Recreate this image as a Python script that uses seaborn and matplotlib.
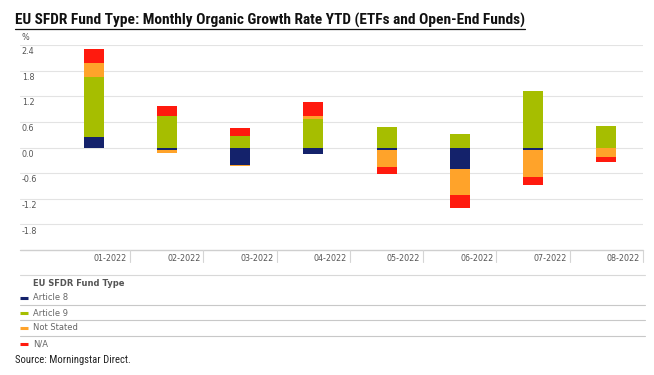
import matplotlib
matplotlib.use("Agg")
import matplotlib.pyplot as plt
import seaborn as sns
import numpy as np
from matplotlib.lines import Line2D
from matplotlib.transforms import blended_transform_factory

months = ["01-2022", "02-2022", "03-2022", "04-2022", "05-2022", "06-2022", "07-2022", "08-2022"]
series = ["Article 8", "Article 9", "Not Stated", "N/A"]
article8 = [0.25, -0.07, -0.41, -0.16, -0.07, -0.50, -0.06, -0.01]
article9 = [1.41, 0.74, 0.26, 0.66, 0.48, 0.32, 1.33, 0.51]
not_stated = [0.32, -0.06, -0.02, 0.08, -0.38, -0.62, -0.62, -0.21]
na = [0.33, 0.23, 0.20, 0.32, -0.18, -0.29, -0.19, -0.11]
colors = ["#14226B", "#A6BE00", "#FFA32A", "#FF1A0E"]
yticks = [2.4, 1.8, 1.2, 0.6, 0.0, -0.6, -1.2, -1.8]

sns.set_style("white")
plt.rcParams["font.family"] = ["DejaVu Sans"]
narrow = ["Roboto Condensed", "Archivo Narrow", "PT Sans Narrow", "DejaVu Sans"]

W, H = 654, 375
fig = plt.figure(figsize=(W / 100, H / 100), dpi=100)
ax = fig.add_axes([20 / W, 1 - 250 / H, (643 - 20) / W, (250 - 45) / H])

# stacked bars: positives build up from 0, negatives build down from 0
x = np.arange(len(months))
pos_base = np.zeros(len(months))
neg_base = np.zeros(len(months))
for vals, col in zip([article8, article9, not_stated, na], colors):
    v = np.array(vals)
    bottom = np.where(v >= 0, pos_base, neg_base)
    ax.bar(x, v, bottom=bottom, width=0.273, color=col, linewidth=0, zorder=3)
    pos_base += np.where(v >= 0, v, 0)
    neg_base += np.where(v < 0, v, 0)

ax.set_xlim(-0.5 - 37 / 73.3, 7.5)
ax.set_ylim(-2.4, 2.4)
ax.set_xticks([])
ax.set_yticks([])
for s in ax.spines.values():
    s.set_visible(False)

grid_c = "#E3E3E3"
for t in yticks:
    ax.axhline(t, color=grid_c, lw=0.8, zorder=1)
ax.axhline(-2.4, color="#CFCFCF", lw=1.0, zorder=1, clip_on=False)

trans_y = blended_transform_factory(ax.transAxes, ax.transData)
for t in yticks:
    ax.text(0.003, t - 0.05, f"{t:.1f}", transform=trans_y, ha="left", va="top",
            fontsize=5.8, color="#555555")
fig.text(22 / W, 1 - 37 / H, "%", fontsize=5.8, color="#555555", ha="left", va="center")

trans_x = blended_transform_factory(ax.transData, ax.transAxes)
for i, m in enumerate(months):
    ax.text(i + 0.5 - 3 / 73.3, -0.02, m, transform=trans_x, ha="right", va="top",
            fontsize=5.8, color="#555555")
    ax.add_line(Line2D([i + 0.5, i + 0.5], [0, -0.06], transform=trans_x,
                       color="#D5D5D5", lw=0.8, clip_on=False))

# legend
fig.add_artist(Line2D([20 / W, 645 / W], [1 - 275 / H] * 2, color="#D8D8D8", lw=0.8))
fig.text(33 / W, 1 - 283 / H, "EU SFDR Fund Type", fontsize=6, fontweight="bold",
         color="#555555", ha="left", va="center")
item_y = [298, 313, 328, 344]
for yy, name, col in zip(item_y, series, colors):
    fig.add_artist(Line2D([20 / W, 28 / W], [1 - yy / H] * 2, color=col, lw=2.2,
                          solid_capstyle="butt"))
    fig.text(33 / W, 1 - yy / H, name, fontsize=6, color="#666666", ha="left", va="center")
for yy in [305, 320, 336]:
    fig.add_artist(Line2D([20 / W, 645 / W], [1 - yy / H] * 2, color="#C8C8C8", lw=0.8))

fig.text(15 / W, 1 - 360 / H, "Source: Morningstar Direct.", family=narrow, fontsize=7.7,
         color="#222222", ha="left", va="center")

title = fig.text(15 / W, 1 - 20 / H,
                 "EU SFDR Fund Type: Monthly Organic Growth Rate YTD (ETFs and Open-End Funds)",
                 family=narrow, fontsize=11.1, fontweight="bold", color="#111111",
                 ha="left", va="center")
fig.canvas.draw()
bb = title.get_window_extent()
fig.add_artist(Line2D([bb.x0 / W, bb.x1 / W], [(bb.y0 - 1) / H] * 2, color="#111111", lw=0.9))

fig.savefig("out.png", dpi=100)
